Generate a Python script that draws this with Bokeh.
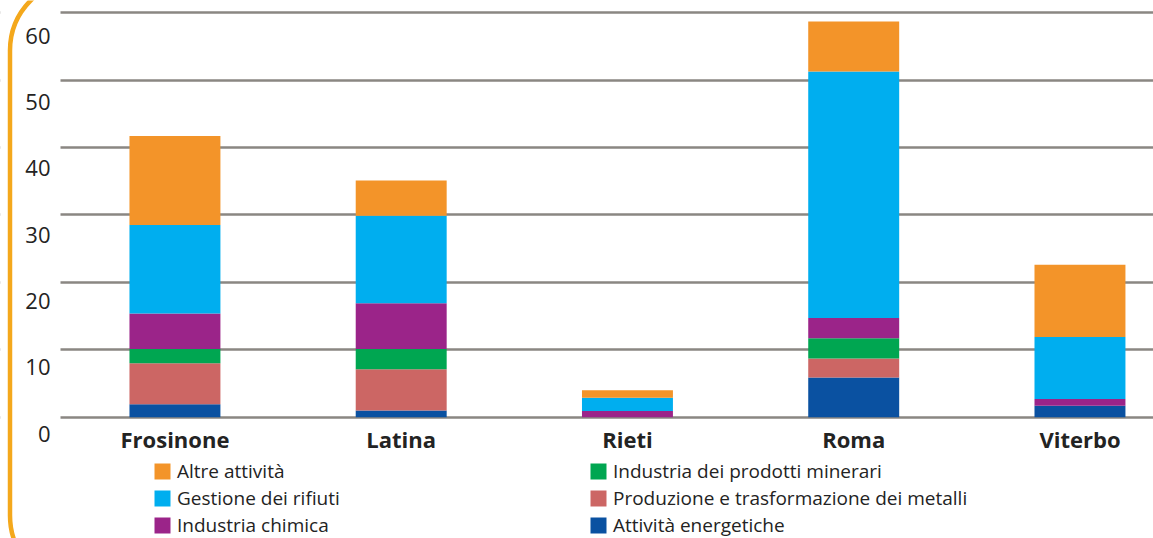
from bokeh.plotting import figure
from bokeh.models import (Range1d, FixedTicker, Legend, LegendItem,
                          BoxAnnotation, ColumnDataSource, LabelSet)
from bokeh.core.properties import value
from bokeh.embed import file_html
from bokeh.resources import INLINE

# ---- data ----
provinces = ["Frosinone", "Latina", "Rieti", "Roma", "Viterbo"]
energetiche = [1.9, 1.0, 0.0, 5.9, 1.7]
metalli = [6.1, 6.1, 0.0, 2.8, 0.0]
minerari = [2.1, 3.0, 0.0, 3.0, 0.0]
chimica = [5.3, 6.8, 0.9, 3.0, 1.0]
rifiuti = [13.1, 13.0, 2.0, 36.6, 9.2]
altre = [13.2, 5.2, 1.1, 7.4, 10.7]

series_keys = ["energetiche", "metalli", "minerari", "chimica", "rifiuti", "altre"]
series_labels = ["Attività energetiche",
                 "Produzione e trasformazione dei metalli",
                 "Industria dei prodotti minerari",
                 "Industria chimica",
                 "Gestione dei rifiuti",
                 "Altre attività"]
series_colors = ["#0A51A1", "#CC6664", "#00A651", "#9B2489", "#00AEEF", "#F39429"]
y_ticks = [0, 10, 20, 30, 40, 50, 60]
y_tick_labels = [str(v) for v in y_ticks]

FONT = "Open Sans"
TXT = "#232323"

xs = list(range(len(provinces)))
src = ColumnDataSource(dict(x=xs, energetiche=energetiche, metalli=metalli,
                            minerari=minerari, chimica=chimica,
                            rifiuti=rifiuti, altre=altre))

p = figure(width=1153, height=538,
           x_range=Range1d(-0.771, 4.325), y_range=Range1d(-18.0, 61.82),
           x_axis_location=None, y_axis_location=None,
           toolbar_location=None, output_backend="svg",
           min_border_left=0, min_border_right=0,
           min_border_top=0, min_border_bottom=0,
           outline_line_color=None, background_fill_color="white",
           border_fill_color="white")

p.xgrid.visible = False
p.ygrid.ticker = FixedTicker(ticks=y_ticks)
p.ygrid.grid_line_color = "#8a8782"
p.ygrid.grid_line_width = 2.5

# white band hiding the grid lines in the label gutter
p.add_layout(BoxAnnotation(left=0, right=60, left_units="screen", right_units="screen",
                           fill_color="white", fill_alpha=1, line_alpha=0,
                           level="underlay"))

renderers = p.vbar_stack(series_keys, x="x", width=0.402, source=src,
                         color=series_colors, line_color=None)

# y labels (drawn slightly below the grid lines as in the original)
p.extra_y_ranges = {"lab": Range1d(-15.83, 65.28)}
ylab_src = ColumnDataSource(dict(y=y_ticks, t=y_tick_labels))
p.add_layout(LabelSet(x=50, x_units="screen", y="y", y_range_name="lab",
                      text="t", source=ylab_src,
                      text_align="right", text_baseline="middle",
                      text_font=value(FONT), text_font_size="22px",
                      text_color=TXT))

# category labels
lab_src = ColumnDataSource(dict(x=xs, y=[0] * len(xs), t=provinces))
p.text(x="x", y="y", text="t", source=lab_src, y_offset=22,
       text_align="center", text_baseline="middle",
       text_font=value(FONT), text_font_style="bold",
       text_font_size="22px", text_color=TXT)

# legends (two columns)
by_key = dict(zip(series_keys, renderers))
lab_of = dict(zip(series_keys, series_labels))
col1 = ["altre", "rifiuti", "chimica"]
col2 = ["minerari", "metalli", "energetiche"]
for keys, loc in ((col1, (152, 0)), (col2, (588, 0))):
    leg = Legend(items=[LegendItem(label=lab_of[k], renderers=[by_key[k]]) for k in keys],
                 location=loc, orientation="vertical",
                 glyph_width=20, glyph_height=20, label_standoff=5,
                 spacing=1, padding=0, margin=0,
                 border_line_color=None, background_fill_alpha=0,
                 label_text_font=FONT, label_text_font_size="19px",
                 label_text_color=TXT, label_height=20)
    p.add_layout(leg)

# orange rounded frame
p.add_layout(BoxAnnotation(left=9.5, right=1400, top=-48, bottom=559,
                           left_units="screen", right_units="screen",
                           top_units="screen", bottom_units="screen",
                           fill_alpha=0, line_color="#F4A81C", line_alpha=1,
                           line_width=4.5, border_radius=71, level="overlay"))

open("out.html", "w").write(file_html(p, INLINE))
